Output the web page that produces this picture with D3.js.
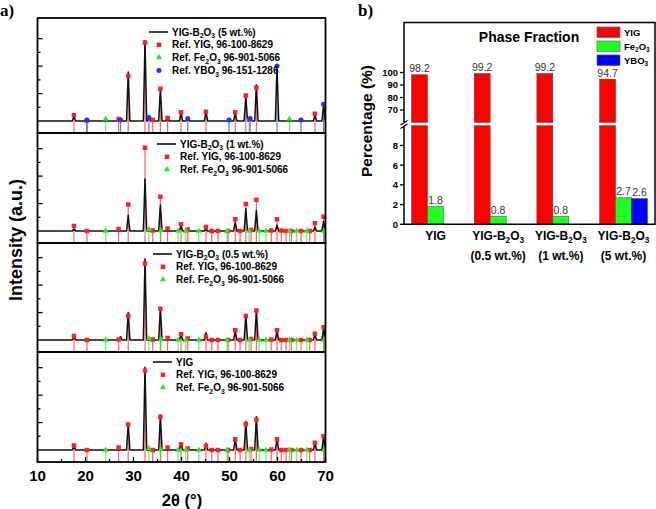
<!DOCTYPE html>
<html>
<head>
<meta charset="utf-8">
<script src="https://cdn.jsdelivr.net/npm/d3@7"></script>
<style>
  body { margin: 0; background: #fff; }
  svg { display: block; font-family: Arial, "Liberation Sans", sans-serif; }
</style>
</head>
<body>
<svg id="chart"></svg>
<script>
// ---------- data: XRD patterns (panel a) ----------
const panelNames = ['YIG-B_2O_3 (5 wt.%)', 'YIG-B_2O_3 (1 wt.%)', 'YIG-B_2O_3 (0.5 wt.%)', 'YIG'];
const refNames = ['Ref. YIG, 96-100-8629', 'Ref. Fe_2O_3 96-901-5066', 'Ref. YBO_3 96-151-1286'];
const xTicks = [10, 20, 30, 40, 50, 60, 70];

// measured peaks [2θ, intensity] of each sample
const peaks5wt = [[17.6, 5], [26.9, 1.5], [28.9, 50], [32.4, 82], [33.2, 3], [35.6, 34], [37.1, 2], [39.9, 8], [41.3, 2],
  [45.1, 9], [51.2, 8], [53.4, 25.5], [54.3, 2], [55.6, 37], [59.9, 57], [67.8, 6], [69.6, 17]];
const peaks1wt = [[17.6, 2], [28.9, 16], [32.4, 53], [35.6, 26.5], [39.9, 5], [45.1, 2], [51.2, 9], [53.4, 23],
  [55.6, 21], [59.9, 6], [67.8, 4], [69.6, 10]];
const peaks05wt = [[17.6, 3], [27.3, 3.5], [28.9, 28], [32.4, 83], [35.6, 32.5], [39.9, 5], [45.1, 7.5], [51.2, 9],
  [53.4, 25.5], [55.6, 30.5], [59.9, 9], [67.8, 5], [69.6, 12]];
const peaksYIG = [[17.6, 4], [28.9, 27], [32.4, 84.5], [35.6, 35.6], [39.9, 7.5], [45.1, 7], [51.2, 11], [53.4, 29],
  [55.6, 34], [59.9, 11], [67.8, 7.5], [69.6, 14]];

// reference stick positions
const yigRefPos = [17.6, 20.3, 26.9, 28.9, 32.4, 34.0, 35.6, 37.1, 39.9, 41.3, 45.1, 46.3, 47.6, 49.7, 51.2, 52.2,
  53.4, 54.5, 55.6, 58.7, 59.9, 60.8, 61.8, 62.9, 64.9, 66.7, 67.8, 69.6];
const fe2o3RefPos = [24.2, 33.2, 35.7, 39.3, 40.9, 43.6, 49.5, 54.1, 56.2, 57.6, 62.5, 64.0, 66.1, 69.7];
const ybo3RefPos = [20.3, 27.3, 33.2, 41.3, 49.9, 54.3, 59.9, 64.9, 69.6];

// reference stick heights for each panel (null = not drawn)
const yigRef5wt = [6, 0.5, 2, 46, 80, 1, 33, 3, 9, null, 9.5, null, null, null, 9, null,
  26, null, 34, null, null, null, null, null, null, null, 7.5, null];
const yigRef1wt = [5, 0, 2, 27, 85, 0.5, 35, 2.5, 7, 1.5, 4, 0, 0, 0, 12, 0,
  27.5, 1, 32, 0.5, 12, 0.5, 0, 0, 0, 0, 8, 14.5];
const yigRef05wt = [4, 0, 0.5, 24.5, 78, 0.5, 32, 2, 6, 1.5, 3.5, 0, 0, 0, 10, 0,
  24.5, 1, 30, 0.5, 10, 0, 0, 0, 0, 0, 6.5, 13];
const yigRefPure = [4.5, 0, 2.5, 26, 81, 0, 34, 2.5, 6, 1.5, 4, 0, 0, 0, 11, 0,
  26.5, 1, 31, 0.5, 11, 0, 0, 0, 0, 0, 7.5, 14];
const fe2o3Ref5wt = [2, null, null, null, null, null, null, 2, null, null, 2, null, null, null];
const fe2o3RefOther = [0, 1.5, 0.5, 0, 0, 0, 0, 0, 0, 0, 0, 0, 0, 0];
const ybo3Ref5wt = [1, 1, 3.5, 2.5, 1, 2.5, 56, 1, 17];

// ---------- data: phase fractions (panel b) ----------
const sampleLine1 = ['YIG', 'YIG-B_2O_3', 'YIG-B_2O_3', 'YIG-B_2O_3'];
const sampleLine2 = ['', '(0.5 wt.%)', '(1 wt.%)', '(5 wt.%)'];
const phaseNames = ['YIG', 'Fe_2O_3', 'YBO_3'];
const phaseColors = ['#ff0000', '#22ff22', '#0000ff'];
const yigFrac = [98.2, 99.2, 99.2, 94.7];
const fe2o3Frac = [1.8, 0.8, 0.8, 2.7];
const ybo3Frac = [null, null, null, 2.6];
const upperTicks = [70, 80, 90, 100];
const lowerTicks = [0, 2, 4, 6, 8];

// ---------- helpers ----------
const svg = d3.select('#chart').attr('width', 656).attr('height', 509);

// text with "_2" style subscripts
function rich(sel, str, size) {
  const parts = str.split(/_(\d)/);
  let shifted = false;
  parts.forEach((p, i) => {
    if (!p) return;
    const t = sel.append('tspan').text(p);
    if (i % 2) {
      t.attr('font-size', size * 0.68).attr('dy', size * 0.28);
      shifted = true;
    } else if (shifted) {
      t.attr('dy', -size * 0.28);
      shifted = false;
    }
  });
  return sel;
}

// ---------- panel a ----------
const x = d3.scaleLinear().domain([10, 70]).range([37.5, 325.5]);
const panelTops = [18, 133, 243, 352, 462];
const peakSets = [peaks5wt, peaks1wt, peaks05wt, peaksYIG];
const yigRefSets = [yigRef5wt, yigRef1wt, yigRef05wt, yigRefPure];
const fe2o3RefSets = [fe2o3Ref5wt, fe2o3RefOther, fe2o3RefOther, fe2o3RefOther];
const legendPos = [[149, 32], [157, 144], [153, 254], [153, 362]];

svg.append('defs').append('clipPath').attr('id', 'clipA')
  .append('rect').attr('x', 37.5).attr('y', 18).attr('width', 288).attr('height', 444);

const symSquare = d3.symbol().type(d3.symbolSquare).size(20);
const symTri = d3.symbol().type(d3.symbolTriangle).size(16);
const symCircle = d3.symbol().type(d3.symbolCircle).size(20);

panelNames.forEach((name, i) => {
  const top = panelTops[i], bottom = panelTops[i + 1];
  const y = d3.scaleLinear().domain([0, 100]).range([bottom - 12, bottom - 110]);
  const g = svg.append('g').attr('clip-path', 'url(#clipA)');

  const refs = [
    { pos: yigRefPos, h: yigRefSets[i], color: '#ff2020', sym: symSquare },
    { pos: fe2o3RefPos, h: fe2o3RefSets[i], color: '#22ee22', sym: symTri }
  ];
  if (i === 0) refs.push({ pos: ybo3RefPos, h: ybo3Ref5wt, color: '#2030ff', sym: symCircle });

  refs.forEach(r => {
    const pts = r.pos.map((p, k) => [p, r.h[k]]).filter(d => d[1] !== null);
    g.selectAll(null).data(pts).enter().append('line')
      .attr('x1', d => x(d[0])).attr('x2', d => x(d[0]))
      .attr('y1', bottom).attr('y2', d => y(d[1]))
      .attr('stroke', r.color).attr('stroke-opacity', 0.7).attr('stroke-width', 1.2);
  });

  // measured pattern: flat background with narrow peaks
  const line = [[10, 0]];
  peakSets[i].forEach(([p, h]) => { line.push([p - 0.35, 0], [p, h], [p + 0.35, 0]); });
  line.push([70, 0]);
  g.append('path').datum(line)
    .attr('fill', 'none').attr('stroke', '#111').attr('stroke-width', 1.5)
    .attr('stroke-linejoin', 'round')
    .attr('d', d3.line().x(d => x(d[0])).y(d => y(d[1])));

  refs.forEach(r => {
    const pts = r.pos.map((p, k) => [p, r.h[k]]).filter(d => d[1] !== null);
    g.selectAll(null).data(pts).enter().append('path')
      .attr('transform', d => `translate(${x(d[0])},${y(d[1])})`)
      .attr('d', r.sym).attr('fill', r.color);
  });

  // inward left ticks
  [14, 28, 42, 56, 70, 84].forEach((v, k) => {
    svg.append('line').attr('x1', 37.5).attr('x2', 37.5 + (k % 2 ? 5 : 3))
      .attr('y1', y(v)).attr('y2', y(v)).attr('stroke', '#000').attr('stroke-width', 1.3);
  });

  // frame
  svg.append('rect').attr('x', 37.5).attr('y', top).attr('width', 288).attr('height', bottom - top)
    .attr('fill', 'none').attr('stroke', '#000').attr('stroke-width', 1.8);

  // legend
  const [lx, ly] = legendPos[i];
  const lg = svg.append('g').attr('font-size', 10).attr('font-weight', 'bold');
  lg.append('line').attr('x1', lx).attr('x2', lx + 19).attr('y1', ly).attr('y2', ly)
    .attr('stroke', '#111').attr('stroke-width', 1.6);
  rich(lg.append('text').attr('x', lx + 23).attr('y', ly + 3.6), name, 10);
  refs.forEach((r, k) => {
    const yy = ly + 12.8 * (k + 1);
    lg.append('path').attr('transform', `translate(${lx + 10},${yy})`).attr('d', r.sym).attr('fill', r.color);
    rich(lg.append('text').attr('x', lx + 23).attr('y', yy + 3.6), refNames[k], 10);
  });
});

// bottom x axis ticks (inward) and labels
const xb = svg.append('g');
d3.range(15, 70, 10).forEach(v => {
  xb.append('line').attr('x1', x(v)).attr('x2', x(v)).attr('y1', 462).attr('y2', 459)
    .attr('stroke', '#000').attr('stroke-width', 1.3);
});
xTicks.forEach(v => {
  xb.append('line').attr('x1', x(v)).attr('x2', x(v)).attr('y1', 462).attr('y2', 457)
    .attr('stroke', '#000').attr('stroke-width', 1.3);
  xb.append('text').attr('x', x(v)).attr('y', 481).attr('text-anchor', 'middle')
    .attr('font-size', 15).attr('font-weight', 'bold').text(v);
});
svg.append('text').attr('x', 182).attr('y', 506).attr('text-anchor', 'middle')
  .attr('font-size', 16.5).attr('font-weight', 'bold').text('2θ (°)');
svg.append('text').attr('transform', 'translate(22,240) rotate(-90)').attr('text-anchor', 'middle')
  .attr('font-size', 18).attr('font-weight', 'bold').text('Intensity (a.u.)');
svg.append('text').attr('x', 0).attr('y', 16).attr('font-family', '"Liberation Serif", "DejaVu Serif", serif')
  .attr('font-size', 17).attr('font-weight', 'bold').text('a)');

// ---------- panel b ----------
const bx = d3.scaleBand().domain(d3.range(4)).range([404, 655]).paddingInner(0.235).paddingOuter(0.12);
const slot = d3.scaleBand().domain(d3.range(3)).range([0, bx.bandwidth()]);
const yLow = d3.scaleLinear().domain([0, 10]).range([224.3, 125.7]);
const yUp = d3.scaleLinear().domain([60, 140]).range([122.5, 22.5]);
const fracSets = [yigFrac, fe2o3Frac, ybo3Frac];

const bars = svg.append('g');
fracSets.forEach((vals, p) => {
  vals.forEach((v, s) => {
    if (v === null) return;
    const bxp = bx(s) + slot(p);
    bars.append('rect').attr('x', bxp).attr('width', slot.bandwidth())
      .attr('y', yLow(Math.min(v, 10))).attr('height', yLow(0) - yLow(Math.min(v, 10)))
      .attr('fill', phaseColors[p]).attr('stroke', '#444').attr('stroke-width', 0.5);
    let ty = yLow(v);
    if (v > 60) {
      bars.append('rect').attr('x', bxp).attr('width', slot.bandwidth())
        .attr('y', yUp(v)).attr('height', yUp(60) - yUp(v))
        .attr('fill', phaseColors[p]).attr('stroke', '#444').attr('stroke-width', 0.5);
      ty = yUp(v);
    }
    bars.append('text').attr('x', bxp + slot.bandwidth() / 2).attr('y', ty - 2.5)
      .attr('text-anchor', 'middle').attr('font-size', 10.5).attr('fill', '#333').text(v.toFixed(1));
  });
});

// frame with broken left axis
const fr = svg.append('g').attr('stroke', '#000').attr('stroke-width', 1.5).attr('fill', 'none');
fr.append('path').attr('d', `M404,122.5 V22.5 H655 V224.3 H404 V125.7`);
fr.append('path').attr('d', 'M400.5,125 L407.5,120.5 M400.5,128.5 L407.5,124').attr('stroke-width', 1.2);

const ax = svg.append('g').attr('font-size', 9.5).attr('font-weight', 'bold');
upperTicks.forEach(v => {
  ax.append('line').attr('x1', 400).attr('x2', 404).attr('y1', yUp(v)).attr('y2', yUp(v)).attr('stroke', '#000').attr('stroke-width', 1.3);
  ax.append('text').attr('x', 398).attr('y', yUp(v) + 3.4).attr('text-anchor', 'end').text(v);
});
lowerTicks.forEach(v => {
  ax.append('line').attr('x1', 400).attr('x2', 404).attr('y1', yLow(v)).attr('y2', yLow(v)).attr('stroke', '#000').attr('stroke-width', 1.3);
  ax.append('text').attr('x', 398).attr('y', yLow(v) + 3.4).attr('text-anchor', 'end').text(v);
});

sampleLine1.forEach((t, s) => {
  const cx = bx(s) + bx.bandwidth() / 2;
  rich(svg.append('text').attr('x', cx).attr('y', 240).attr('text-anchor', 'middle')
    .attr('font-size', 12).attr('font-weight', 'bold'), t, 12);
  svg.append('text').attr('x', cx).attr('y', 260).attr('text-anchor', 'middle')
    .attr('font-size', 12).attr('font-weight', 'bold').text(sampleLine2[s]);
});

svg.append('text').attr('transform', 'translate(372,121) rotate(-90)').attr('text-anchor', 'middle')
  .attr('font-size', 15.5).attr('font-weight', 'bold').text('Percentage (%)');
svg.append('text').attr('x', 529).attr('y', 42).attr('text-anchor', 'middle')
  .attr('font-size', 14).attr('font-weight', 'bold').text('Phase Fraction');
svg.append('text').attr('x', 358).attr('y', 16).attr('font-family', '"Liberation Serif", "DejaVu Serif", serif')
  .attr('font-size', 17).attr('font-weight', 'bold').text('b)');

// legend of panel b
phaseNames.forEach((n, k) => {
  const ly = 27 + k * 14;
  svg.append('rect').attr('x', 597).attr('y', ly).attr('width', 23).attr('height', 10.5)
    .attr('fill', phaseColors[k]).attr('stroke', '#555').attr('stroke-width', 0.6);
  rich(svg.append('text').attr('x', 624).attr('y', ly + 8.5).attr('font-size', 9.5).attr('font-weight', 'bold'), n, 9.5);
});
</script>
</body>
</html>
